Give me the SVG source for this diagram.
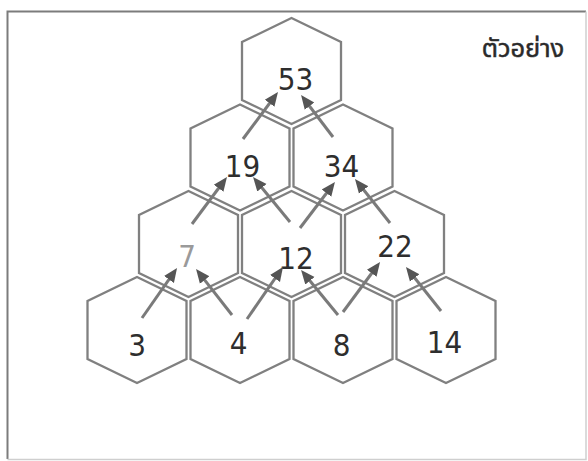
<svg xmlns="http://www.w3.org/2000/svg" width="588" height="461" viewBox="0 0 588 461">
<style>
.hex{fill:none;stroke:#808080;stroke-width:2.3;stroke-linejoin:miter}
.num{font-family:"DejaVu Sans Condensed","DejaVu Sans",sans-serif;font-size:31px;fill:#2e2e2e;text-anchor:middle}
.arr{stroke:#7a7a7a;stroke-width:3;fill:none;marker-end:url(#ah)}
</style>
<defs>
<polygon id="h" points="0,-53 49.5,-29 49.5,29 0,53 -49.5,29 -49.5,-29"/>
<marker id="ah" markerUnits="userSpaceOnUse" markerWidth="16" markerHeight="14" viewBox="0 -7 16 14" refX="4" refY="0" orient="auto">
<path d="M0,-6 L14,0 L0,6 z" fill="#555"/>
</marker>
</defs>
<rect width="588" height="461" fill="#fff"/>
<path d="M7.5,459 L7.5,11.5 L586,11.5" fill="none" stroke="#7c7c7c" stroke-width="2"/>
<path d="M586,11.5 L586,459.5 L7.5,459.5" fill="none" stroke="#cfcfcf" stroke-width="1.5"/>
<text x="523" y="57" font-family="'Noto Sans Thai','Noto Sans',sans-serif" font-size="25.5" fill="#2a2a2a" stroke="#2a2a2a" stroke-width="0.5" text-anchor="middle">ตัวอย่าง</text>
<g id="n53"><use href="#h" x="291.5" y="71" class="hex"/><text class="num" x="295.5" y="90">53</text></g>
<g id="n19"><use href="#h" x="240" y="157.5" class="hex"/><text class="num" x="242.5" y="177">19</text></g>
<g id="n34"><use href="#h" x="343" y="157.5" class="hex"/><text class="num" x="341.5" y="177">34</text></g>
<g id="n7"><use href="#h" x="188.5" y="244" class="hex"/><text class="num" x="187" y="267" style="fill:#9a9a9a">7</text></g>
<g id="n12"><use href="#h" x="291.5" y="244" class="hex"/><text class="num" x="296" y="269">12</text></g>
<g id="n22"><use href="#h" x="394.5" y="244" class="hex"/><text class="num" x="395" y="257">22</text></g>
<g id="n3"><use href="#h" x="137" y="330" class="hex"/><text class="num" x="137" y="356">3</text></g>
<g id="n4"><use href="#h" x="240" y="330" class="hex"/><text class="num" x="238.5" y="354">4</text></g>
<g id="n8"><use href="#h" x="343" y="330" class="hex"/><text class="num" x="341.5" y="356">8</text></g>
<g id="n14"><use href="#h" x="446" y="330" class="hex"/><text class="num" x="444.5" y="353">14</text></g>
<g id="connectors">
<line class="arr" x1="243" y1="139" x2="272" y2="100"/>
<line class="arr" x1="333" y1="137" x2="307.1" y2="103"/>
<line class="arr" x1="192" y1="224" x2="221" y2="185"/>
<line class="arr" x1="290" y1="222" x2="259.4" y2="184.7"/>
<line class="arr" x1="300" y1="228" x2="328.9" y2="190"/>
<line class="arr" x1="390" y1="223" x2="361.2" y2="186.8"/>
<line class="arr" x1="142" y1="318" x2="171.3" y2="276.2"/>
<line class="arr" x1="232" y1="315" x2="202.2" y2="276.9"/>
<line class="arr" x1="247" y1="319" x2="277.3" y2="275.2"/>
<line class="arr" x1="338" y1="315" x2="307.4" y2="277.7"/>
<line class="arr" x1="343" y1="312" x2="374.1" y2="270"/>
<line class="arr" x1="441" y1="311" x2="412.2" y2="274.8"/>
</g>
</svg>
